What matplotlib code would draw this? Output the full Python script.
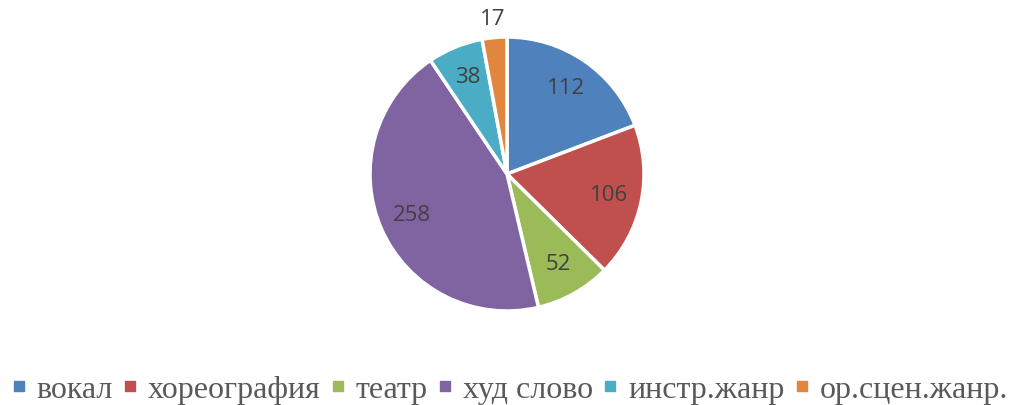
import matplotlib
matplotlib.use("Agg")
import numpy as np
import matplotlib.pyplot as plt
from matplotlib.lines import Line2D

categories = ['вокал', 'хореография', 'театр', 'худ слово', 'инстр.жанр', 'ор.сцен.жанр.']
values = [112, 106, 52, 258, 38, 17]
colors = ['#4F81BD', '#C0504D', '#9BBB59', '#8064A2', '#4BACC6', '#E0863E']

fig = plt.figure(figsize=(10.14, 4.05), dpi=100)
ax = fig.add_axes([370 / 1014, 94 / 405, 274 / 1014, 274 / 405])

wedges, texts = ax.pie(values, colors=colors, startangle=90, counterclock=False,
                       labels=[str(v) for v in values], labeldistance=0.76,
                       wedgeprops=dict(edgecolor='white', linewidth=2.5),
                       textprops=dict(fontsize=16, color='#404040', family='Open Sans'))
for t in texts:
    t.set_ha('center')
    t.set_va('center')
# the smallest slice gets its label outside
w = wedges[-1]
ang = np.deg2rad((w.theta1 + w.theta2) / 2)
texts[-1].set_position((1.13 * np.cos(ang), 1.13 * np.sin(ang)))
ax.set_xlim(-1, 1)
ax.set_ylim(-1, 1)
ax.set_aspect('equal')

handles = [Line2D([], [], marker='s', linestyle='none', markersize=7.5,
                  markerfacecolor=c, markeredgecolor=c) for c in colors]
fig.legend(handles, categories, loc='lower center', bbox_to_anchor=(0.503, -0.07),
           ncol=6, frameon=False, handlelength=0.4, handletextpad=0.35, columnspacing=0.35,
           prop=dict(family='Liberation Serif', size=23), labelcolor='#595959')

fig.savefig('out.png', dpi=100)
